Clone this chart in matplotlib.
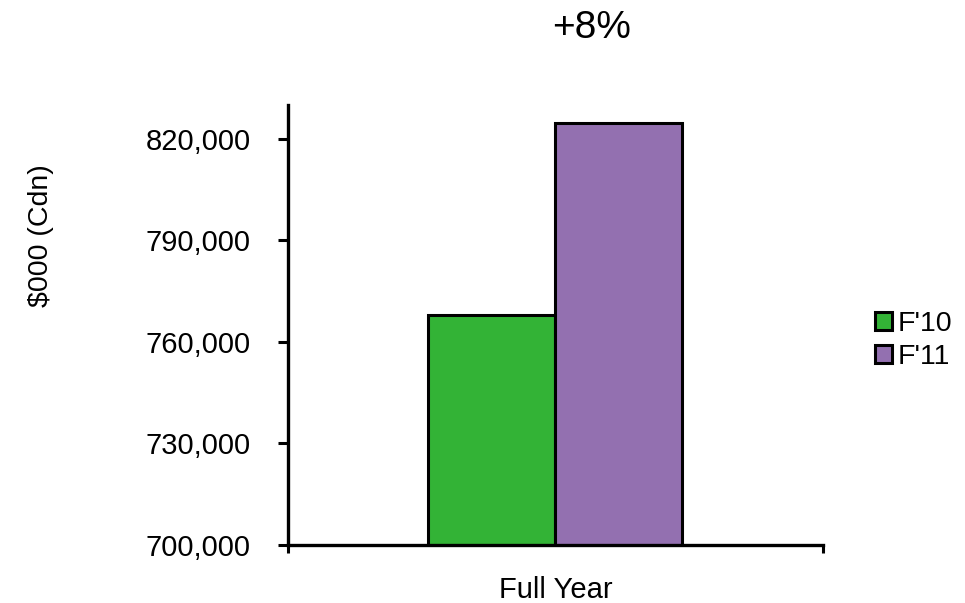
"""Full year revenue comparison, F'10 vs F'11."""
import matplotlib.pyplot as plt
from matplotlib.patches import Patch
from matplotlib.ticker import FuncFormatter

plt.rcParams['font.family'] = ['Liberation Sans', 'DejaVu Sans']

categories = ["Full Year"]
series_names = ["F'10", "F'11"]
values_f10 = [768000]
values_f11 = [824700]
colors = ['#33B336', '#9370B0']
y_ticks = [700000, 730000, 760000, 790000, 820000]

fig = plt.figure(figsize=(9.65, 6.03), dpi=100)
ax = fig.add_axes([0.2984, 0.0962, 0.5544, 0.7297])

w = 0.2374
ax.bar([-w / 2], values_f10, width=w, color=colors[0], edgecolor='black', linewidth=2.2)
ax.bar([w / 2], values_f11, width=w, color=colors[1], edgecolor='black', linewidth=2.2)

ax.set_xlim(-0.5, 0.5)
ax.set_ylim(700000, 830000)
ax.set_yticks(y_ticks)
ax.yaxis.set_major_formatter(FuncFormatter(lambda v, p: f"{int(v):,}"))
ax.set_xticks([-0.5, 0.5])
ax.set_xticklabels(['', ''])
ax.set_xticks([0], minor=True)
ax.set_xticklabels(categories, minor=True)
ax.tick_params(axis='x', which='minor', length=0, pad=22, labelsize=21)
ax.tick_params(axis='x', which='major', length=6, width=2.2, direction='out')
ax.tick_params(axis='y', length=7, width=2.2, labelsize=21, pad=20)

for side in ['top', 'right']:
    ax.spines[side].set_visible(False)
for side in ['left', 'bottom']:
    ax.spines[side].set_linewidth(2.4)

fig.text(0.613, 0.953, "+8%", ha='center', va='center', fontsize=28)
fig.text(0.043, 0.61, "$000 (Cdn)", rotation=90, ha='center', va='center', fontsize=20.5)

handles = [Patch(facecolor=c, edgecolor='black', linewidth=2.2) for c in colors]
fig.legend(handles, series_names, loc='center left', bbox_to_anchor=(0.8915, 0.435),
           frameon=False, fontsize=20.5, handlelength=0.6, handleheight=0.6,
           handletextpad=0.2, labelspacing=0.25, borderpad=0)

fig.savefig('out.png', dpi=100)
